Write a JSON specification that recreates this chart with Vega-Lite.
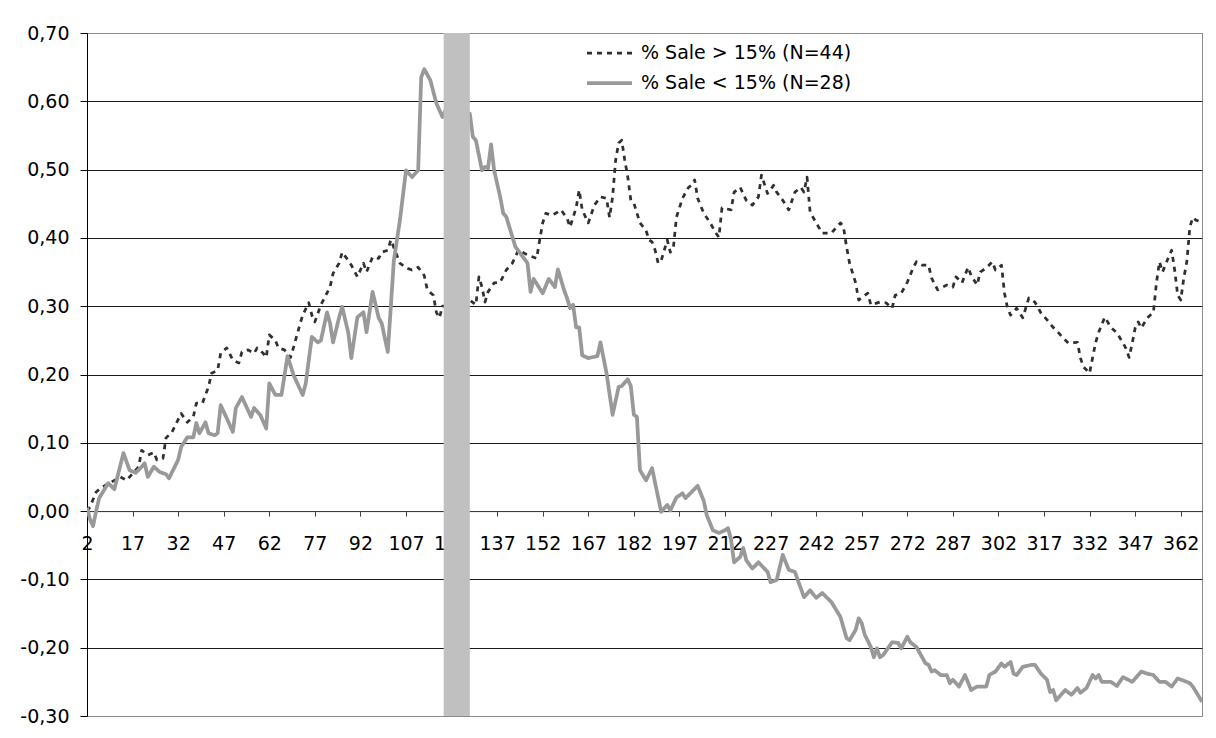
{
"$schema": "https://vega.github.io/schema/vega-lite/v6.json",
"width": 1115, "height": 683,
"autosize": {"type": "none"},
"padding": {"left": 87, "top": 33, "right": 14, "bottom": 22},
"background": "white",
"config": {"view": {"stroke": "#8c8c8c", "strokeWidth": 1}, "font": "DejaVu Sans"},
"datasets": {
"lo": [
{"d":2,"v":0.005},{"d":3,"v":-0.012},{"d":4,"v":-0.022},{"d":5,"v":0.0},{"d":6,"v":0.019},{"d":9,"v":0.041},{"d":11,"v":0.032},{"d":14,"v":0.085},{"d":16,"v":0.06},{"d":18,"v":0.056},{"d":20,"v":0.065},{"d":21,"v":0.07},{"d":22,"v":0.05},{"d":24,"v":0.065},{"d":26,"v":0.057},{"d":28,"v":0.054},{"d":29,"v":0.048},{"d":32,"v":0.075},{"d":33,"v":0.094},{"d":35,"v":0.108},{"d":37,"v":0.108},{"d":38,"v":0.129},{"d":39,"v":0.114},{"d":41,"v":0.13},{"d":42,"v":0.114},{"d":44,"v":0.111},{"d":45,"v":0.114},{"d":46,"v":0.155},{"d":48,"v":0.136},{"d":50,"v":0.116},{"d":51,"v":0.151},{"d":53,"v":0.167},{"d":56,"v":0.138},{"d":57,"v":0.151},{"d":59,"v":0.141},{"d":61,"v":0.121},{"d":62,"v":0.187},{"d":64,"v":0.17},{"d":66,"v":0.17},{"d":68,"v":0.227},{"d":70,"v":0.199},{"d":73,"v":0.17},{"d":74,"v":0.187},{"d":76,"v":0.255},{"d":78,"v":0.247},{"d":79,"v":0.25},{"d":81,"v":0.291},{"d":82,"v":0.275},{"d":83,"v":0.247},{"d":85,"v":0.284},{"d":86,"v":0.299},{"d":88,"v":0.261},{"d":89,"v":0.224},{"d":91,"v":0.284},{"d":93,"v":0.291},{"d":94,"v":0.262},{"d":96,"v":0.321},{"d":98,"v":0.283},{"d":99,"v":0.275},{"d":101,"v":0.233},{"d":102,"v":0.299},{"d":103,"v":0.367},{"d":105,"v":0.426},{"d":107,"v":0.499},{"d":109,"v":0.489},{"d":111,"v":0.499},{"d":112,"v":0.635},{"d":113,"v":0.647},{"d":115,"v":0.631},{"d":117,"v":0.597},{"d":119,"v":0.577},{"d":120,"v":0.587},{"d":124,"v":0.585},{"d":128,"v":0.582},{"d":129,"v":0.548},{"d":130,"v":0.543},{"d":132,"v":0.499},{"d":133,"v":0.504},{"d":134,"v":0.502},{"d":135,"v":0.537},{"d":136,"v":0.499},{"d":138,"v":0.46},{"d":139,"v":0.436},{"d":140,"v":0.431},{"d":143,"v":0.387},{"d":147,"v":0.363},{"d":148,"v":0.321},{"d":149,"v":0.34},{"d":152,"v":0.319},{"d":154,"v":0.34},{"d":156,"v":0.328},{"d":157,"v":0.354},{"d":159,"v":0.324},{"d":160,"v":0.312},{"d":161,"v":0.297},{"d":162,"v":0.302},{"d":163,"v":0.269},{"d":164,"v":0.269},{"d":165,"v":0.228},{"d":167,"v":0.224},{"d":170,"v":0.227},{"d":171,"v":0.247},{"d":173,"v":0.202},{"d":175,"v":0.141},{"d":177,"v":0.182},{"d":178,"v":0.183},{"d":180,"v":0.193},{"d":181,"v":0.183},{"d":182,"v":0.141},{"d":183,"v":0.138},{"d":184,"v":0.06},{"d":186,"v":0.045},{"d":188,"v":0.063},{"d":189,"v":0.041},{"d":190,"v":0.02},{"d":191,"v":-0.001},{"d":193,"v":0.009},{"d":194,"v":0.001},{"d":196,"v":0.02},{"d":198,"v":0.026},{"d":199,"v":0.019},{"d":201,"v":0.028},{"d":203,"v":0.037},{"d":205,"v":0.015},{"d":206,"v":-0.006},{"d":208,"v":-0.028},{"d":210,"v":-0.032},{"d":212,"v":-0.028},{"d":213,"v":-0.025},{"d":214,"v":-0.042},{"d":215,"v":-0.075},{"d":217,"v":-0.067},{"d":218,"v":-0.054},{"d":219,"v":-0.072},{"d":221,"v":-0.084},{"d":223,"v":-0.075},{"d":226,"v":-0.089},{"d":227,"v":-0.104},{"d":229,"v":-0.101},{"d":231,"v":-0.064},{"d":233,"v":-0.086},{"d":235,"v":-0.089},{"d":238,"v":-0.126},{"d":240,"v":-0.116},{"d":242,"v":-0.127},{"d":244,"v":-0.12},{"d":247,"v":-0.133},{"d":250,"v":-0.155},{"d":252,"v":-0.186},{"d":253,"v":-0.189},{"d":255,"v":-0.174},{"d":256,"v":-0.157},{"d":257,"v":-0.164},{"d":258,"v":-0.181},{"d":260,"v":-0.199},{"d":261,"v":-0.214},{"d":262,"v":-0.201},{"d":263,"v":-0.214},{"d":264,"v":-0.211},{"d":267,"v":-0.192},{"d":269,"v":-0.193},{"d":270,"v":-0.201},{"d":272,"v":-0.184},{"d":273,"v":-0.192},{"d":275,"v":-0.199},{"d":278,"v":-0.223},{"d":279,"v":-0.225},{"d":280,"v":-0.235},{"d":281,"v":-0.233},{"d":283,"v":-0.24},{"d":285,"v":-0.24},{"d":286,"v":-0.252},{"d":287,"v":-0.247},{"d":289,"v":-0.257},{"d":291,"v":-0.24},{"d":293,"v":-0.262},{"d":295,"v":-0.257},{"d":298,"v":-0.257},{"d":299,"v":-0.24},{"d":301,"v":-0.235},{"d":303,"v":-0.223},{"d":304,"v":-0.228},{"d":306,"v":-0.221},{"d":307,"v":-0.238},{"d":308,"v":-0.24},{"d":310,"v":-0.228},{"d":313,"v":-0.225},{"d":314,"v":-0.225},{"d":316,"v":-0.238},{"d":318,"v":-0.247},{"d":319,"v":-0.265},{"d":320,"v":-0.262},{"d":321,"v":-0.277},{"d":324,"v":-0.262},{"d":326,"v":-0.269},{"d":328,"v":-0.259},{"d":329,"v":-0.266},{"d":331,"v":-0.259},{"d":333,"v":-0.24},{"d":334,"v":-0.245},{"d":335,"v":-0.24},{"d":336,"v":-0.25},{"d":339,"v":-0.25},{"d":341,"v":-0.256},{"d":343,"v":-0.243},{"d":346,"v":-0.25},{"d":349,"v":-0.235},{"d":351,"v":-0.238},{"d":353,"v":-0.24},{"d":355,"v":-0.25},{"d":357,"v":-0.25},{"d":359,"v":-0.257},{"d":361,"v":-0.245},{"d":364,"v":-0.25},{"d":365,"v":-0.252},{"d":366,"v":-0.257},{"d":369,"v":-0.279}
],
"hi": [
{"d":2,"v":0.0},{"d":3,"v":0.006},{"d":5,"v":0.028},{"d":7,"v":0.035},{"d":9,"v":0.04},{"d":11,"v":0.045},{"d":13,"v":0.05},{"d":15,"v":0.045},{"d":17,"v":0.055},{"d":19,"v":0.065},{"d":20,"v":0.089},{"d":22,"v":0.082},{"d":24,"v":0.086},{"d":25,"v":0.075},{"d":27,"v":0.077},{"d":28,"v":0.107},{"d":30,"v":0.116},{"d":33,"v":0.143},{"d":35,"v":0.13},{"d":37,"v":0.138},{"d":38,"v":0.158},{"d":40,"v":0.158},{"d":42,"v":0.182},{"d":43,"v":0.202},{"d":45,"v":0.206},{"d":46,"v":0.231},{"d":48,"v":0.239},{"d":50,"v":0.221},{"d":52,"v":0.217},{"d":53,"v":0.233},{"d":55,"v":0.236},{"d":57,"v":0.231},{"d":58,"v":0.239},{"d":60,"v":0.231},{"d":61,"v":0.225},{"d":62,"v":0.258},{"d":64,"v":0.25},{"d":65,"v":0.239},{"d":67,"v":0.236},{"d":69,"v":0.225},{"d":70,"v":0.24},{"d":72,"v":0.272},{"d":73,"v":0.287},{"d":75,"v":0.305},{"d":76,"v":0.287},{"d":77,"v":0.277},{"d":79,"v":0.302},{"d":82,"v":0.328},{"d":83,"v":0.348},{"d":85,"v":0.363},{"d":86,"v":0.379},{"d":88,"v":0.367},{"d":89,"v":0.36},{"d":91,"v":0.343},{"d":93,"v":0.363},{"d":94,"v":0.35},{"d":96,"v":0.372},{"d":98,"v":0.37},{"d":99,"v":0.379},{"d":101,"v":0.382},{"d":102,"v":0.397},{"d":105,"v":0.363},{"d":107,"v":0.356},{"d":109,"v":0.353},{"d":111,"v":0.357},{"d":113,"v":0.345},{"d":114,"v":0.324},{"d":116,"v":0.316},{"d":117,"v":0.291},{"d":118,"v":0.283},{"d":119,"v":0.3},{"d":123,"v":0.3},{"d":128,"v":0.309},{"d":130,"v":0.302},{"d":131,"v":0.343},{"d":132,"v":0.328},{"d":133,"v":0.306},{"d":134,"v":0.321},{"d":136,"v":0.334},{"d":138,"v":0.335},{"d":140,"v":0.353},{"d":142,"v":0.363},{"d":144,"v":0.382},{"d":147,"v":0.375},{"d":150,"v":0.37},{"d":151,"v":0.397},{"d":152,"v":0.422},{"d":153,"v":0.436},{"d":155,"v":0.433},{"d":157,"v":0.438},{"d":158,"v":0.441},{"d":160,"v":0.429},{"d":161,"v":0.416},{"d":163,"v":0.444},{"d":164,"v":0.47},{"d":165,"v":0.441},{"d":167,"v":0.422},{"d":169,"v":0.448},{"d":171,"v":0.46},{"d":173,"v":0.458},{"d":174,"v":0.43},{"d":175,"v":0.46},{"d":176,"v":0.514},{"d":177,"v":0.539},{"d":178,"v":0.543},{"d":179,"v":0.514},{"d":180,"v":0.489},{"d":181,"v":0.455},{"d":182,"v":0.451},{"d":184,"v":0.422},{"d":186,"v":0.411},{"d":187,"v":0.397},{"d":188,"v":0.394},{"d":189,"v":0.382},{"d":190,"v":0.363},{"d":191,"v":0.367},{"d":193,"v":0.397},{"d":194,"v":0.379},{"d":195,"v":0.385},{"d":196,"v":0.43},{"d":198,"v":0.458},{"d":200,"v":0.474},{"d":201,"v":0.477},{"d":202,"v":0.485},{"d":203,"v":0.458},{"d":205,"v":0.436},{"d":207,"v":0.423},{"d":209,"v":0.407},{"d":210,"v":0.401},{"d":211,"v":0.444},{"d":214,"v":0.441},{"d":215,"v":0.467},{"d":217,"v":0.474},{"d":219,"v":0.455},{"d":221,"v":0.448},{"d":223,"v":0.46},{"d":224,"v":0.492},{"d":226,"v":0.465},{"d":228,"v":0.477},{"d":229,"v":0.467},{"d":231,"v":0.455},{"d":233,"v":0.441},{"d":235,"v":0.467},{"d":237,"v":0.474},{"d":238,"v":0.467},{"d":239,"v":0.489},{"d":240,"v":0.438},{"d":242,"v":0.422},{"d":244,"v":0.407},{"d":247,"v":0.407},{"d":250,"v":0.422},{"d":251,"v":0.416},{"d":252,"v":0.387},{"d":253,"v":0.363},{"d":255,"v":0.334},{"d":256,"v":0.309},{"d":259,"v":0.319},{"d":260,"v":0.302},{"d":263,"v":0.306},{"d":265,"v":0.305},{"d":267,"v":0.297},{"d":268,"v":0.316},{"d":270,"v":0.319},{"d":272,"v":0.335},{"d":274,"v":0.357},{"d":275,"v":0.365},{"d":277,"v":0.36},{"d":279,"v":0.36},{"d":280,"v":0.341},{"d":282,"v":0.324},{"d":285,"v":0.331},{"d":287,"v":0.328},{"d":288,"v":0.343},{"d":290,"v":0.334},{"d":292,"v":0.357},{"d":293,"v":0.345},{"d":295,"v":0.331},{"d":296,"v":0.35},{"d":298,"v":0.356},{"d":300,"v":0.365},{"d":301,"v":0.353},{"d":303,"v":0.36},{"d":304,"v":0.319},{"d":305,"v":0.297},{"d":306,"v":0.287},{"d":308,"v":0.297},{"d":310,"v":0.283},{"d":312,"v":0.312},{"d":314,"v":0.306},{"d":316,"v":0.29},{"d":318,"v":0.28},{"d":320,"v":0.269},{"d":321,"v":0.265},{"d":323,"v":0.255},{"d":325,"v":0.246},{"d":328,"v":0.247},{"d":329,"v":0.224},{"d":330,"v":0.211},{"d":332,"v":0.202},{"d":333,"v":0.225},{"d":334,"v":0.247},{"d":335,"v":0.262},{"d":337,"v":0.284},{"d":339,"v":0.269},{"d":341,"v":0.261},{"d":343,"v":0.246},{"d":344,"v":0.238},{"d":345,"v":0.225},{"d":346,"v":0.245},{"d":347,"v":0.268},{"d":348,"v":0.277},{"d":349,"v":0.268},{"d":351,"v":0.283},{"d":353,"v":0.291},{"d":354,"v":0.334},{"d":355,"v":0.365},{"d":356,"v":0.35},{"d":358,"v":0.372},{"d":359,"v":0.382},{"d":360,"v":0.353},{"d":361,"v":0.316},{"d":362,"v":0.309},{"d":363,"v":0.341},{"d":364,"v":0.365},{"d":365,"v":0.416},{"d":366,"v":0.43},{"d":367,"v":0.426},{"d":369,"v":0.423}
]
},
"layer": [
{
"data": {"name": "hi"},
"mark": {"type": "line", "strokeJoin": "round", "strokeCap": "butt", "clip": true},
"encoding": {
"x": {"field": "d", "type": "quantitative", "scale": {"domain": [2, 369], "nice": false, "zero": false},
"axis": {"values": [2,17,32,47,62,77,92,107,122,137,152,167,182,197,212,227,242,257,272,287,302,317,332,347,362], "format": "d", "offset": -204.9, "title": null, "grid": false, "labelFlush": false, "labelOverlap": false, "tickSize": 5, "tickColor": "#404040", "domainColor": "#404040", "labelFont": "DejaVu Sans", "labelFontSize": 19, "labelColor": "#000000", "labelPadding": 18, "zindex": 0}},
"y": {"field": "v", "type": "quantitative", "scale": {"domain": [-0.3, 0.7], "nice": false, "zero": false},
"axis": {"values": [-0.3,-0.2,-0.1,0,0.1,0.2,0.3,0.4,0.5,0.6,0.7], "title": null, "grid": true, "gridColor": {"condition": {"test": "datum.value >= 0.69 || datum.value <= -0.29", "value": "#8c8c8c"}, "value": "#1a1a1a"}, "gridWidth": 1, "tickSize": 7, "tickColor": "#000000", "domainColor": "#000000", "labelExpr": "(datum.value < -0.001 ? '-' : '') + replace(format(abs(datum.value), '.2f'), '.', ',')", "labelFont": "DejaVu Sans", "labelFontSize": 19, "labelColor": "#000000", "labelPadding": 11, "zindex": 0}},
"color": {"datum": "% Sale > 15% (N=44)", "type": "nominal",
"scale": {"domain": ["% Sale > 15% (N=44)", "% Sale < 15% (N=28)"], "range": ["#303030", "#999999"]},
"legend": {"orient": "none", "legendX": 498, "legendY": 6, "title": null, "labelFont": "DejaVu Sans", "labelFontSize": 19, "labelColor": "#000000", "labelLimit": 400, "symbolType": "stroke", "symbolSize": 2025, "clipHeight": 28, "rowPadding": 2, "labelOffset": 7, "padding": 0}},
"strokeDash": {"datum": "% Sale > 15% (N=44)", "type": "nominal",
"scale": {"domain": ["% Sale > 15% (N=44)", "% Sale < 15% (N=28)"], "range": [[5, 5], [1, 0]]},
"legend": {"orient": "none", "legendX": 498, "legendY": 6, "title": null, "labelFont": "DejaVu Sans", "labelFontSize": 19, "labelColor": "#000000", "labelLimit": 400, "symbolType": "stroke", "symbolSize": 2025, "clipHeight": 28, "rowPadding": 2, "labelOffset": 7, "padding": 0}},
"strokeWidth": {"datum": "% Sale > 15% (N=44)", "type": "nominal",
"scale": {"domain": ["% Sale > 15% (N=44)", "% Sale < 15% (N=28)"], "range": [2.75, 3.75]},
"legend": {"orient": "none", "legendX": 498, "legendY": 6, "title": null, "labelFont": "DejaVu Sans", "labelFontSize": 19, "labelColor": "#000000", "labelLimit": 400, "symbolType": "stroke", "symbolSize": 2025, "clipHeight": 28, "rowPadding": 2, "labelOffset": 7, "padding": 0}}
}
},
{
"data": {"name": "lo"},
"mark": {"type": "line", "strokeJoin": "round", "clip": true},
"encoding": {
"x": {"field": "d", "type": "quantitative"},
"y": {"field": "v", "type": "quantitative"},
"color": {"datum": "% Sale < 15% (N=28)", "type": "nominal"},
"strokeDash": {"datum": "% Sale < 15% (N=28)", "type": "nominal"},
"strokeWidth": {"datum": "% Sale < 15% (N=28)", "type": "nominal"}
}
},
{
"data": {"values": [{"start": 119.4, "end": 128}]},
"mark": {"type": "rect", "color": "#C0C0C0"},
"encoding": {"x": {"field": "start", "type": "quantitative", "title": null}, "x2": {"field": "end"}}
}
]
}
